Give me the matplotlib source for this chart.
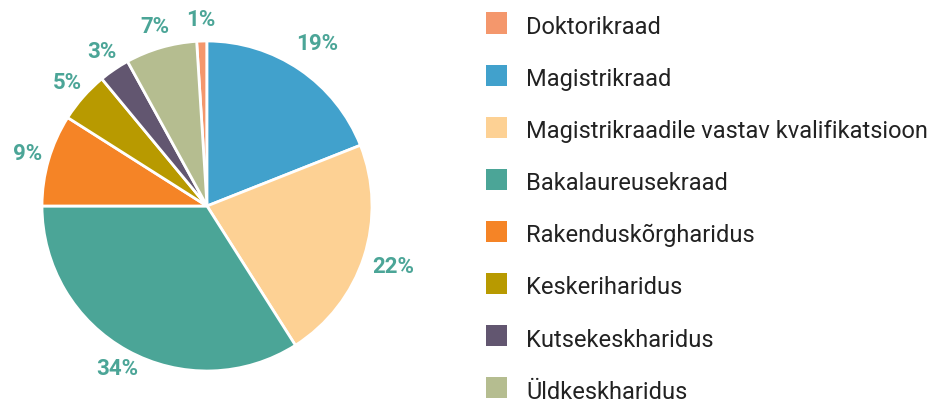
import matplotlib
matplotlib.use('Agg')
import matplotlib.pyplot as plt
from matplotlib.patches import Rectangle
import numpy as np

plt.rcParams['font.family'] = ['Roboto', 'DejaVu Sans']

# andmed
labels = ['Doktorikraad', 'Magistrikraad', 'Magistrikraadile vastav kvalifikatsioon',
          'Bakalaureusekraad', 'Rakenduskõrgharidus', 'Keskeriharidus',
          'Kutsekeskharidus', 'Üldkeskharidus']
shares = [1, 19, 22, 34, 9, 5, 3, 7]
colors = ['#f4976c', '#41a1cc', '#fdd194', '#4ba597', '#f58426', '#b89a00',
          '#625670', '#b5bd90']

W, H = 936, 403
fig = plt.figure(figsize=(W / 100, H / 100), dpi=100)

# pirukas: keskpunkt (207, 206), raadius 165 px
cx, cy, r = 207, 206, 165
ax = fig.add_axes([(cx - r) / W, (H - cy - r) / H, 2 * r / W, 2 * r / H])
wedges, texts, autotexts = ax.pie(
    shares, colors=colors, startangle=90 + shares[0] * 3.6, counterclock=False,
    autopct='%1.0f%%', pctdistance=1.16,
    wedgeprops=dict(edgecolor='white', linewidth=2),
    textprops=dict(color='#4ba597', fontsize=16, fontweight='bold'))

# vasakpoolsed sildid on lähemal, parempoolsed kaugemal
for w, t in zip(wedges, autotexts):
    ang = np.deg2rad((w.theta1 + w.theta2) / 2)
    d = 1.19 if np.cos(ang) > 0 else 1.13
    t.set_position((d * np.cos(ang), d * np.sin(ang)))

ax.set_xlim(-1, 1)
ax.set_ylim(-1, 1)
ax.set_aspect('equal')
ax.axis('off')

# legend käsitsi
x0, y0, step, sq = 486, 23, 52.1, 21
for i, (lab, col) in enumerate(zip(labels, colors)):
    yc = y0 + i * step
    fig.patches.append(Rectangle((x0 / W, (H - yc - sq / 2) / H), sq / W, sq / H,
                                 transform=fig.transFigure, facecolor=col,
                                 edgecolor='none'))
    fig.text(526 / W, (H - yc - 11) / H, lab, fontsize=17, color='#222222',
             va='baseline', ha='left')

fig.savefig('out.png', dpi=100)
